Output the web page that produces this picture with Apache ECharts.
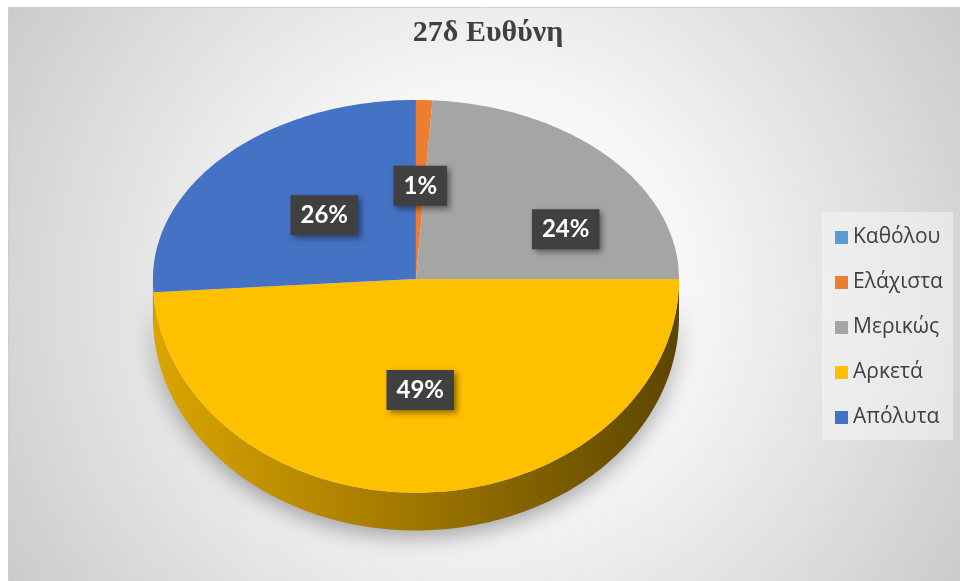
<!DOCTYPE html>
<html>
<head>
<meta charset="utf-8">
<script src="https://cdn.jsdelivr.net/npm/echarts@6/dist/echarts.min.js"></script>
<style>
  html, body { margin: 0; padding: 0; background: #fff; }
  #main { width: 960px; height: 581px; }
</style>
</head>
<body>
<div id="main"></div>
<script>
// δεδομένα του γραφήματος
const categories = ['Καθόλου', 'Ελάχιστα', 'Μερικώς', 'Αρκετά', 'Απόλυτα'];
const shares = [0, 1, 24, 49, 26];
const percentLabels = ['0%', '1%', '24%', '49%', '26%'];

const colors = ['#5B9BD5', '#ED7D31', '#A5A5A5', '#FFC000', '#4472C4'];
// Excel moved the 24% label outward a bit
const labelNudge = { 'Μερικώς': [50, 14], 'Απόλυτα': [8, 0] };

let myChart = echarts.init(document.getElementById('main'));

const total = shares.reduce((a, b) => a + b, 0);

function shade(hex, f) {
  let n = parseInt(hex.slice(1), 16);
  let r = Math.round(((n >> 16) & 255) * f);
  let g = Math.round(((n >> 8) & 255) * f);
  let b = Math.round((n & 255) * f);
  return 'rgb(' + r + ',' + g + ',' + b + ')';
}

// geometry of the tilted pie (fractions of chart size)
function geo(api) {
  let w = api.getWidth(), h = api.getHeight();
  return {
    cx: w * 0.4333, cy: h * 0.480,
    rx: w * 0.274, ryBack: h * 0.308, ryFront: h * 0.368,
    depth: h * 0.065
  };
}

// angle clockwise from 12 o'clock
function pt(g, th, r, dh) {
  let c = Math.cos(th);
  return [g.cx + r * g.rx * Math.sin(th), g.cy - r * c * (c > 0 ? g.ryBack : g.ryFront) + dh];
}

function arc(g, a, b, dh) {
  let pts = [];
  let steps = Math.max(2, Math.ceil((b - a) / (Math.PI / 180)));
  for (let k = 0; k <= steps; k++) {
    pts.push(pt(g, a + (b - a) * k / steps, 1, dh));
  }
  return pts;
}

function renderSlice(params, api) {
  let i = params.seriesIndex;
  let v = shares[i];
  if (!v) return { type: 'group', children: [] };
  let g = geo(api);
  let before = 0;
  for (let k = 0; k < i; k++) before += shares[k];
  let a = 2 * Math.PI * before / total;
  let b = 2 * Math.PI * (before + v) / total;
  let children = [];

  // side wall, only the front half can be seen
  let sa = Math.max(a, Math.PI / 2), sb = Math.min(b, Math.PI * 1.5);
  if (sb > sa) {
    let topEdge = arc(g, sa, sb, 0);
    let botEdge = arc(g, sa, sb, g.depth).reverse();
    children.push({
      type: 'polygon',
      shape: { points: topEdge.concat(botEdge) },
      style: {
        fill: new echarts.graphic.LinearGradient(g.cx - g.rx, 0, g.cx + g.rx, 0, [
          { offset: 0, color: shade(colors[i], 0.86) },
          { offset: 0.5, color: shade(colors[i], 0.62) },
          { offset: 1, color: shade(colors[i], 0.36) }
        ], true),
        shadowBlur: 22,
        shadowOffsetY: 6,
        shadowColor: 'rgba(0,0,0,0.35)'
      },
      z2: 1
    });
  }

  // top surface
  children.push({
    type: 'polygon',
    shape: { points: [[g.cx, g.cy]].concat(arc(g, a, b, 0)) },
    style: { fill: colors[i] },
    z2: 5
  });

  // data label
  let mid = (a + b) / 2;
  let p = pt(g, mid, 0.52, 0);
  let nudge = labelNudge[categories[i]] || [0, 0];
  children.push({
    type: 'text',
    x: p[0] + nudge[0],
    y: p[1] + nudge[1],
    style: {
      text: percentLabels[i],
      fill: '#ffffff',
      font: 'bold 24px Lato, "Open Sans", sans-serif',
      align: 'center',
      verticalAlign: 'middle',
      backgroundColor: '#404040',
      padding: [9, 10, 7, 10],
      shadowBlur: 6,
      shadowOffsetX: 3,
      shadowOffsetY: 3,
      shadowColor: 'rgba(0,0,0,0.45)'
    },
    z2: 100
  });

  return { type: 'group', children: children };
}

let option = {
  animation: false,
  graphic: [{
    type: 'rect',
    left: 8, top: 7,
    shape: { width: 952, height: 574 },
    style: {
      fill: new echarts.graphic.RadialGradient(0.5, 0.5, 1, [
        { offset: 0, color: '#ffffff' },
        { offset: 0.35, color: '#f7f7f7' },
        { offset: 1, color: '#c9c9c9' }
      ]),
      stroke: '#cfcfcf',
      lineWidth: 1
    },
    z: -10
  }],
  title: {
    text: '27δ Ευθύνη',
    left: 483,
    textAlign: 'center',
    top: 13,
    textStyle: {
      fontFamily: '"Liberation Serif", serif',
      fontWeight: 'bold',
      fontSize: 30,
      color: '#404040'
    }
  },
  legend: {
    data: categories,
    orient: 'vertical',
    left: 822,
    top: 212,
    padding: [15, 10, 12, 13],
    itemGap: 24,
    icon: 'rect',
    itemWidth: 13,
    itemHeight: 13,
    itemStyle: { borderWidth: 0 },
    backgroundColor: 'rgba(245,245,245,0.55)',
    selectedMode: false,
    textStyle: {
      fontFamily: '"Open Sans", sans-serif',
      fontSize: 21,
      color: '#404040'
    }
  },
  series: categories.map((name, i) => ({
    name: name,
    type: 'custom',
    coordinateSystem: 'none',
    itemStyle: { color: colors[i] },
    data: [shares[i]],
    renderItem: renderSlice
  }))
};

myChart.setOption(option);
</script>
</body>
</html>
